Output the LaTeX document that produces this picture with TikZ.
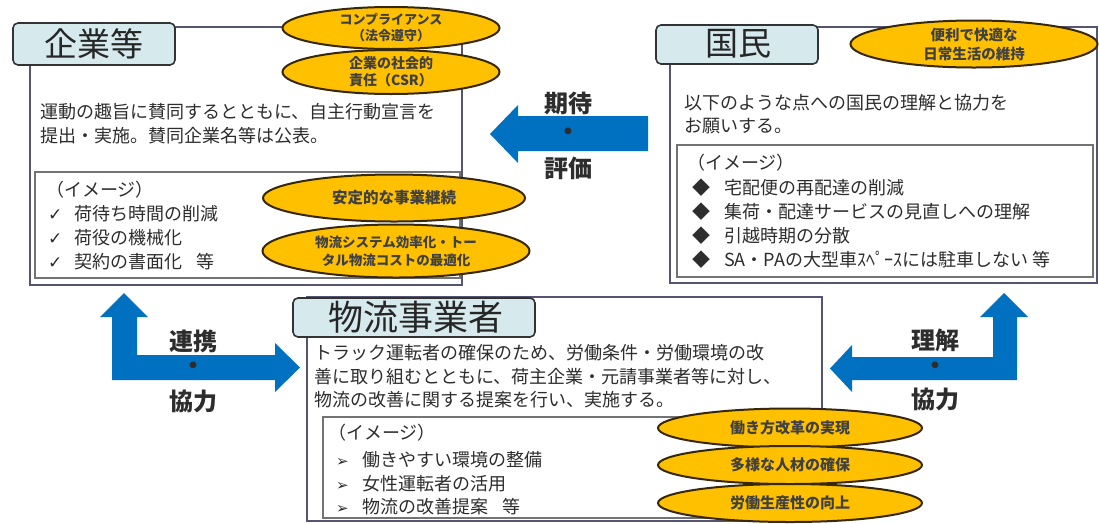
\documentclass[tikz,border=0pt]{standalone}
\usepackage{fontspec}
\setmainfont{Noto Sans CJK JP}
\newfontfamily\symfont{DejaVu Sans}
\usetikzlibrary{shapes.geometric}
\definecolor{arrowblue}{RGB}{0,112,192}
\definecolor{gold}{RGB}{255,192,0}
\definecolor{goldline}{RGB}{55,40,10}
\definecolor{tabfill}{RGB}{214,234,238}
\definecolor{boxline}{RGB}{85,85,115}
\definecolor{txt}{RGB}{45,45,45}
\tikzset{
  outerbox/.style={draw=boxline, line width=1.8pt},
  innerbox/.style={draw=black!55, line width=1.2pt},
  tabbox/.style={draw=black!80, fill=tabfill, rounded corners=5pt, line width=1.6pt},
  oval/.style={ellipse, draw=goldline, fill=gold, line width=2pt, inner sep=0, align=center, text=black!75},
  body/.style={anchor=west, inner sep=0, font=\fontsize{18}{18}\selectfont, text=txt},
  titletext/.style={inner sep=0, font=\fontsize{33}{33}\selectfont, text=black!85},
  lbl/.style={inner sep=0, font=\bfseries\fontsize{24}{24}\selectfont, text=txt},
  blockarrow/.style={fill=arrowblue, draw=none}
}
\begin{document}
\begin{tikzpicture}[x=1pt,y=-1pt]
\useasboundingbox (0,0) rectangle (1099,523);
\fill[white] (0,0) rectangle (1099,523);

% ---------- 企業等 ----------
\draw[outerbox] (30,27) rectangle (462,285);
\draw[innerbox] (35,172) rectangle (460,278);
\draw[tabbox] (13,23) rectangle (175,65);
\node[titletext] (kigyoT) at (94,44) {企業等};
\node[body] (k1) at (40,112) {運動の趣旨に賛同するとともに、自主行動宣言を};
\node[body] (k2) at (40,136) {提出・実施。賛同企業名等は公表。};
\node[body] (ki0) at (46,190) {（イメージ）};
\node[body] (ki1) at (48,214) {{\symfont\fontsize{17}{17}\selectfont ✓}\hspace{12pt}荷待ち時間の削減};
\node[body] (ki2) at (48,238) {{\symfont\fontsize{17}{17}\selectfont ✓}\hspace{12pt}荷役の機械化};
\node[body] (ki3) at (48,262) {{\symfont\fontsize{17}{17}\selectfont ✓}\hspace{12pt}契約の書面化\hspace{14pt}等};

\node[oval, minimum width=217pt, minimum height=42pt, font=\bfseries\fontsize{13}{16}\selectfont] (e1) at (391,28) {コンプライアンス\\（法令遵守）};
\node[oval, minimum width=217pt, minimum height=44pt, font=\bfseries\fontsize{14}{17}\selectfont] (e2) at (391,72) {企業の社会的\\責任（CSR）};
\node[oval, minimum width=262pt, minimum height=47pt, font=\bfseries\fontsize{15.5}{16}\selectfont] (e3) at (394,198) {安定的な事業継続};
\node[oval, minimum width=267pt, minimum height=53pt, font=\bfseries\fontsize{13.5}{18}\selectfont] (e4) at (396,251) {物流システム効率化・トー\\タル物流コストの最適化};

% ---------- 国民 ----------
\draw[outerbox] (670,27) rectangle (1097,283);
\draw[innerbox] (677,145) rectangle (1093,277);
\draw[tabbox] (656,25) rectangle (818,64);
\node[titletext] (kokuminT) at (738,44) {国民};
\node[oval, minimum width=247pt, minimum height=47pt, font=\bfseries\fontsize{14.5}{19}\selectfont] (e5) at (974,44) {便利で快適な\\日常生活の維持};
\node[body] (m1) at (684,103) {以下のような点への国民の理解と協力を};
\node[body] (m2) at (684,126) {お願いする。};
\node[body] (mi0) at (687,163) {（イメージ）};
\node[body] (mi1) at (692,188) {◆\hspace{14pt}宅配便の再配達の削減};
\node[body] (mi2) at (692,212) {◆\hspace{14pt}集荷・配達サービスの見直しへの理解};
\node[body] (mi3) at (692,236) {◆\hspace{14pt}引越時期の分散};
\node[body] (mi4) at (692,260) {◆\hspace{14pt}SA・PAの大型車ｽﾍﾟｰｽには駐車しない 等};

% ---------- 物流事業者 ----------
\draw[outerbox] (307,297) rectangle (822,521);
\draw[innerbox] (323,417) rectangle (805,518);
\draw[tabbox] (293,298) rectangle (535,337);
\node[titletext, font=\fontsize{35}{35}\selectfont] (butsuT) at (416,317) {物流事業者};
\node[body] (b1) at (314,353) {トラック運転者の確保のため、労働条件・労働環境の改};
\node[body] (b2) at (314,377) {善に取り組むとともに、荷主企業・元請事業者等に対し、};
\node[body] (b3) at (314,400) {物流の改善に関する提案を行い、実施する。};
\node[body] (bi0) at (328,433) {（イメージ）};
\node[body] (bi1) at (336,460) {{\symfont\fontsize{15}{15}\selectfont ➢}\hspace{14pt}働きやすい環境の整備};
\node[body] (bi2) at (336,484) {{\symfont\fontsize{15}{15}\selectfont ➢}\hspace{14pt}女性運転者の活用};
\node[body] (bi3) at (336,507) {{\symfont\fontsize{15}{15}\selectfont ➢}\hspace{14pt}物流の改善提案\hspace{14pt}等};

\node[oval, minimum width=264pt, minimum height=39pt, font=\bfseries\fontsize{15}{16}\selectfont] (e6) at (790,428) {働き方改革の実現};
\node[oval, minimum width=264pt, minimum height=38pt, font=\bfseries\fontsize{15}{16}\selectfont] (e7) at (790,465) {多様な人材の確保};
\node[oval, minimum width=264pt, minimum height=38pt, font=\bfseries\fontsize{15}{16}\selectfont] (e8) at (790,503) {労働生産性の向上};

% ---------- block arrows ----------
% 期待・評価 (国民 -> 企業等)
\fill[blockarrow] (490,134) -- (518,105) -- (518,116) -- (648,116) -- (648,151)
  -- (518,151) -- (518,163) -- cycle;
\node[lbl] (a1t) at (568,103) {期待};
\node[lbl] (a1d) at (568,134) {・};
\node[lbl] (a1b) at (568,168) {評価};

% 連携・協力 (left)
\fill[blockarrow] (124,293) -- (148,317) -- (137,317) -- (137,355) -- (275,355)
  -- (275,343) -- (300,367.5) -- (275,392) -- (275,380) -- (112,380)
  -- (112,317) -- (100,317) -- cycle;
\node[lbl] (a2t) at (193,341) {連携};
\node[lbl] (a2d) at (193,368) {・};
\node[lbl] (a2b) at (193,401) {協力};

% 理解・協力 (right)
\fill[blockarrow] (1004,293) -- (1028,317) -- (1017,317) -- (1017,380) -- (852,380)
  -- (852,392) -- (830,368.5) -- (852,345) -- (852,357) -- (993,357)
  -- (993,317) -- (980,317) -- cycle;
\node[lbl] (a3t) at (935,340) {理解};
\node[lbl] (a3d) at (935,368) {・};
\node[lbl] (a3b) at (935,399) {協力};
\end{tikzpicture}
\end{document}
